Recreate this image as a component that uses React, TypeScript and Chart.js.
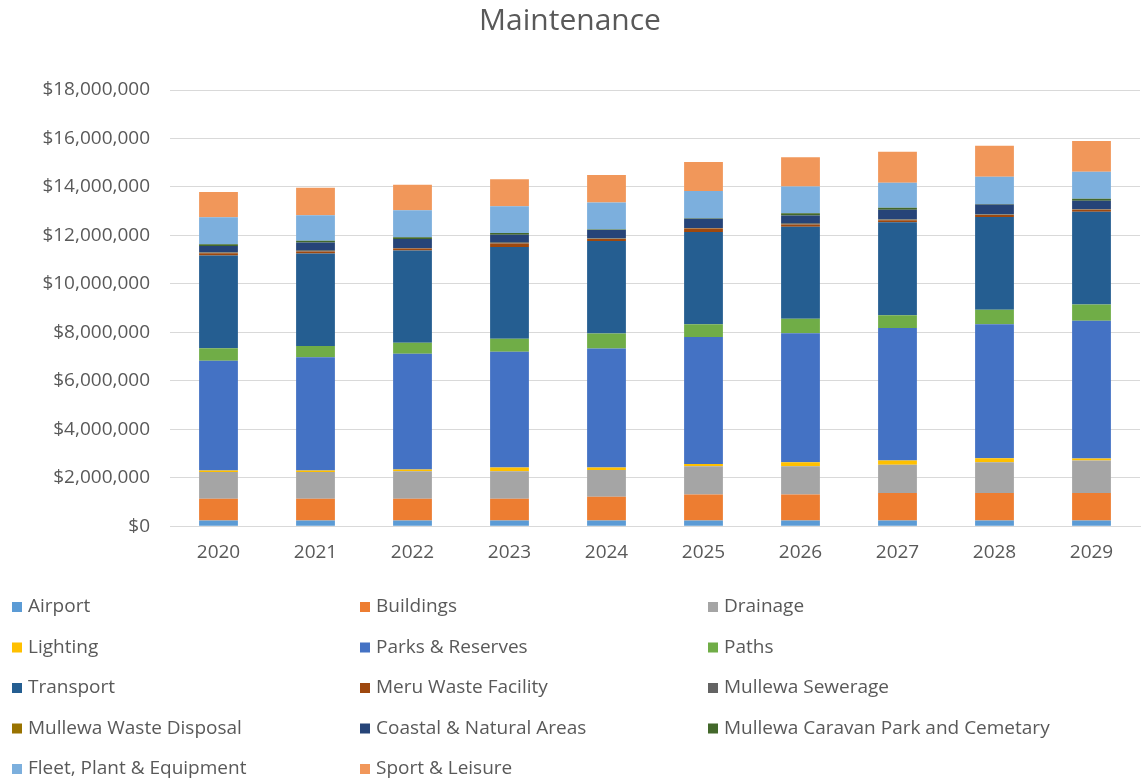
import { useEffect, useRef } from 'react';
import { Chart, registerables } from 'chart.js';

Chart.register(...registerables);

const years = ['2020', '2021', '2022', '2023', '2024', '2025', '2026', '2027', '2028', '2029'];

const airport = [235000, 235000, 235000, 235000, 235000, 240000, 240000, 240000, 240000, 240000];
const buildings = [900000, 900000, 900000, 900000, 980000, 1070000, 1070000, 1130000, 1130000, 1130000];
const drainage = [1100000, 1100000, 1130000, 1130000, 1100000, 1160000, 1160000, 1170000, 1270000, 1340000];
const lighting = [60000, 60000, 70000, 160000, 110000, 100000, 170000, 170000, 160000, 80000];
const parksReserves = [4530000, 4680000, 4780000, 4770000, 4910000, 5240000, 5320000, 5470000, 5530000, 5690000];
const paths = [520000, 460000, 450000, 540000, 620000, 520000, 600000, 520000, 600000, 670000];
const transport = [3830000, 3820000, 3810000, 3790000, 3810000, 3810000, 3800000, 3840000, 3830000, 3830000];
const meruWaste = [90000, 80000, 80000, 140000, 90000, 140000, 90000, 90000, 80000, 80000];
const mullewaSewerage = [20000, 20000, 20000, 20000, 20000, 20000, 20000, 20000, 20000, 20000];
const mullewaWasteDisposal = [10000, 10000, 10000, 10000, 10000, 10000, 10000, 10000, 10000, 10000];
const coastalNatural = [270000, 340000, 370000, 330000, 340000, 380000, 340000, 400000, 410000, 340000];
const mullewaCaravan = [70000, 70000, 70000, 70000, 20000, 20000, 90000, 80000, 20000, 80000];
const fleetPlant = [1110000, 1060000, 1110000, 1110000, 1110000, 1120000, 1110000, 1030000, 1120000, 1120000];
const sportLeisure = [1050000, 1130000, 1060000, 1110000, 1140000, 1200000, 1210000, 1280000, 1280000, 1270000];

const seriesNames = [
  'Airport', 'Buildings', 'Drainage', 'Lighting', 'Parks & Reserves', 'Paths', 'Transport',
  'Meru Waste Facility', 'Mullewa Sewerage', 'Mullewa Waste Disposal', 'Coastal & Natural Areas',
  'Mullewa Caravan Park and Cemetary', 'Fleet, Plant & Equipment', 'Sport & Leisure',
];
const seriesValues = [
  airport, buildings, drainage, lighting, parksReserves, paths, transport, meruWaste,
  mullewaSewerage, mullewaWasteDisposal, coastalNatural, mullewaCaravan, fleetPlant, sportLeisure,
];
const seriesColors = [
  '#5B9BD5', '#ED7D31', '#A5A5A5', '#FFC000', '#4472C4', '#70AD47', '#255E91',
  '#9E480E', '#636363', '#997300', '#264478', '#43682B', '#7CAFDD', '#F1975A',
];

const FONT = '"Open Sans", "Noto Sans", sans-serif';
const TEXT = '#595959';

const gridLegend = {
  id: 'gridLegend',
  afterDraw(chart: any) {
    const ctx = chart.ctx;
    ctx.save();
    ctx.font = `19px ${FONT}`;
    ctx.textBaseline = 'middle';
    ctx.textAlign = 'left';
    chart.data.datasets.forEach((ds: any, i: number) => {
      const col = i % 3;
      const row = Math.floor(i / 3);
      const x = 12 + col * 348;
      const y = 607 + row * 40.5;
      ctx.fillStyle = ds.backgroundColor;
      ctx.fillRect(x, y - 5, 10, 10);
      ctx.fillStyle = TEXT;
      ctx.fillText(ds.label, x + 16, y);
    });
    ctx.restore();
  },
};

export default function App() {
  const canvasRef = useRef<HTMLCanvasElement | null>(null);

  useEffect(() => {
    if (!canvasRef.current) return;
    Chart.defaults.font.family = FONT;
    const chart = new Chart(canvasRef.current, {
      type: 'bar',
      data: {
        labels: years,
        datasets: seriesNames.map((name, i) => ({
          label: name,
          data: seriesValues[i],
          backgroundColor: seriesColors[i],
          borderWidth: 0,
          categoryPercentage: 1,
          barPercentage: 0.4,
        })),
      },
      options: {
        responsive: false,
        animation: false,
        layout: { padding: { left: 0, right: 3, top: 0, bottom: 204 } },
        plugins: {
          legend: { display: false },
          tooltip: { enabled: false },
          title: {
            display: true,
            text: 'Maintenance',
            color: TEXT,
            font: { size: 30, weight: 'normal', family: FONT },
            padding: { top: 3, bottom: 51 },
          },
        },
        scales: {
          x: {
            stacked: true,
            grid: { display: false, drawTicks: false },
            border: { display: true, color: '#D9D9D9' },
            ticks: { color: TEXT, font: { size: 19 }, padding: 15 },
          },
          y: {
            stacked: true,
            min: 0,
            max: 18000000,
            grid: { color: '#D9D9D9', drawTicks: false },
            border: { display: false },
            ticks: {
              stepSize: 2000000,
              color: TEXT,
              font: { size: 19 },
              padding: 20,
              callback: (v: any) => '$' + Number(v).toLocaleString('en-US'),
            },
            afterFit: (scale: any) => {
              scale.width = 170;
            },
          },
        },
      },
      plugins: [gridLegend],
    });
    return () => chart.destroy();
  }, []);

  return (
    <div style={{ position: 'absolute', left: 0, top: 0, width: 1143, height: 783, background: '#fff' }}>
      <canvas ref={canvasRef} width={1143} height={783} />
    </div>
  );
}
